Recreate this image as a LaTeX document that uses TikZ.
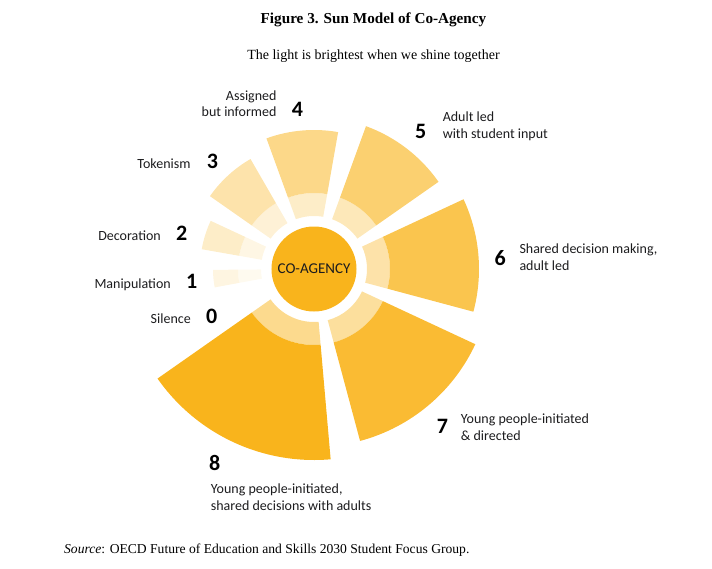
\documentclass[tikz,border=0pt]{standalone}
\usepackage{fontspec}
\setmainfont{Liberation Serif}
\newfontfamily\calibri{Carlito}
\usetikzlibrary{positioning}

\definecolor{sun}{RGB}{249,180,28}
\definecolor{ink}{RGB}{28,28,30}

\begin{document}
\begin{tikzpicture}[
  x=1pt, y=1pt,
  lbl/.style={font=\calibri\fontsize{14}{16.5}\selectfont, text=ink, inner sep=0pt},
  lvl/.style={font=\calibri\bfseries\fontsize{22}{22}\selectfont, text=black, inner sep=0pt},
  core/.style={circle, fill=sun, minimum size=85pt, inner sep=0pt,
               font=\calibri\fontsize{15}{16}\selectfont, text=ink},
  captxt/.style={inner sep=0pt, font=\fontsize{14}{16}\selectfont},
]
\useasboundingbox (-314,-299) rectangle (398,269);

\foreach \a/\b/\r/\o/\i in {180.5/190.5/101/13/7, 155/170/114/24/12, 120/145/127/37/18,
    80/110/139/52/24, 35/70/152/63/31, -15/25/165/78/38, -75/-25/178/90/43, 215/275/191/100/50}{
  \fill[sun!\i!white] (\a:53pt) arc[start angle=\a, end angle=\b, radius=53pt]
    -- (\b:76pt) arc[start angle=\b, end angle=\a, radius=76pt] -- cycle;
  \fill[sun!\o!white] (\a:76pt) arc[start angle=\a, end angle=\b, radius=76pt]
    -- (\b:\r pt) arc[start angle=\b, end angle=\a, radius=\r pt] -- cycle;
}

\node[core] (core) at (0,0) {CO-AGENCY};

\node[captxt, font=\bfseries\fontsize{15.2}{17}\selectfont, anchor=base] (title) at (59.5,245)
  {Figure 3. Sun Model of Co-Agency};
\node[captxt, anchor=base] (sub) at (59.5,209) {The light is brightest when we shine together};
\node[captxt, font=\fontsize{13.6}{16}\selectfont, anchor=base west] (src) at (-250,-284)
  {\textit{Source}: OECD Future of Education and Skills 2030 Student Focus Group.};

\node[lvl, anchor=base west] (n0) at (-108,-54) {0};
\node[lvl, anchor=base west] (n1) at (-128,-19) {1};
\node[lvl, anchor=base west] (n2) at (-138,29) {2};
\node[lvl, anchor=base west] (n3) at (-107.3,101) {3};
\node[lvl, anchor=base west] (n4) at (-22.3,152.3) {4};
\node[lvl, anchor=base west] (n5) at (101,131) {5};
\node[lvl, anchor=base west] (n6) at (180.3,4) {6};
\node[lvl, anchor=base west] (n7) at (122.7,-164) {7};
\node[lvl, anchor=base west] (n8) at (-105,-201) {8};

\node[lbl, base left=15pt of n0] (l0) {Silence};
\node[lbl, base left=15pt of n1] (l1) {Manipulation};
\node[lbl, base left=15pt of n2] (l2) {Decoration};
\node[lbl, base left=16pt of n3] (l3) {Tokenism};
\node[lbl, align=right, base left=15pt of n4] (l4) {Assigned\\but informed};
\node[lbl, align=left, base right=16pt of n5] (l5) {Adult led\\with student input};
\node[lbl, align=left, anchor=base west] (l6) at (205.3,-1) {Shared decision making,\\adult led};
\node[lbl, align=left, anchor=base west] (l7) at (146.7,-171) {Young people-initiated\\\& directed};
\node[lbl, align=left, anchor=base west] (l8) at (-103.3,-241) {Young people-initiated,\\shared decisions with adults};

\end{tikzpicture}
\end{document}
